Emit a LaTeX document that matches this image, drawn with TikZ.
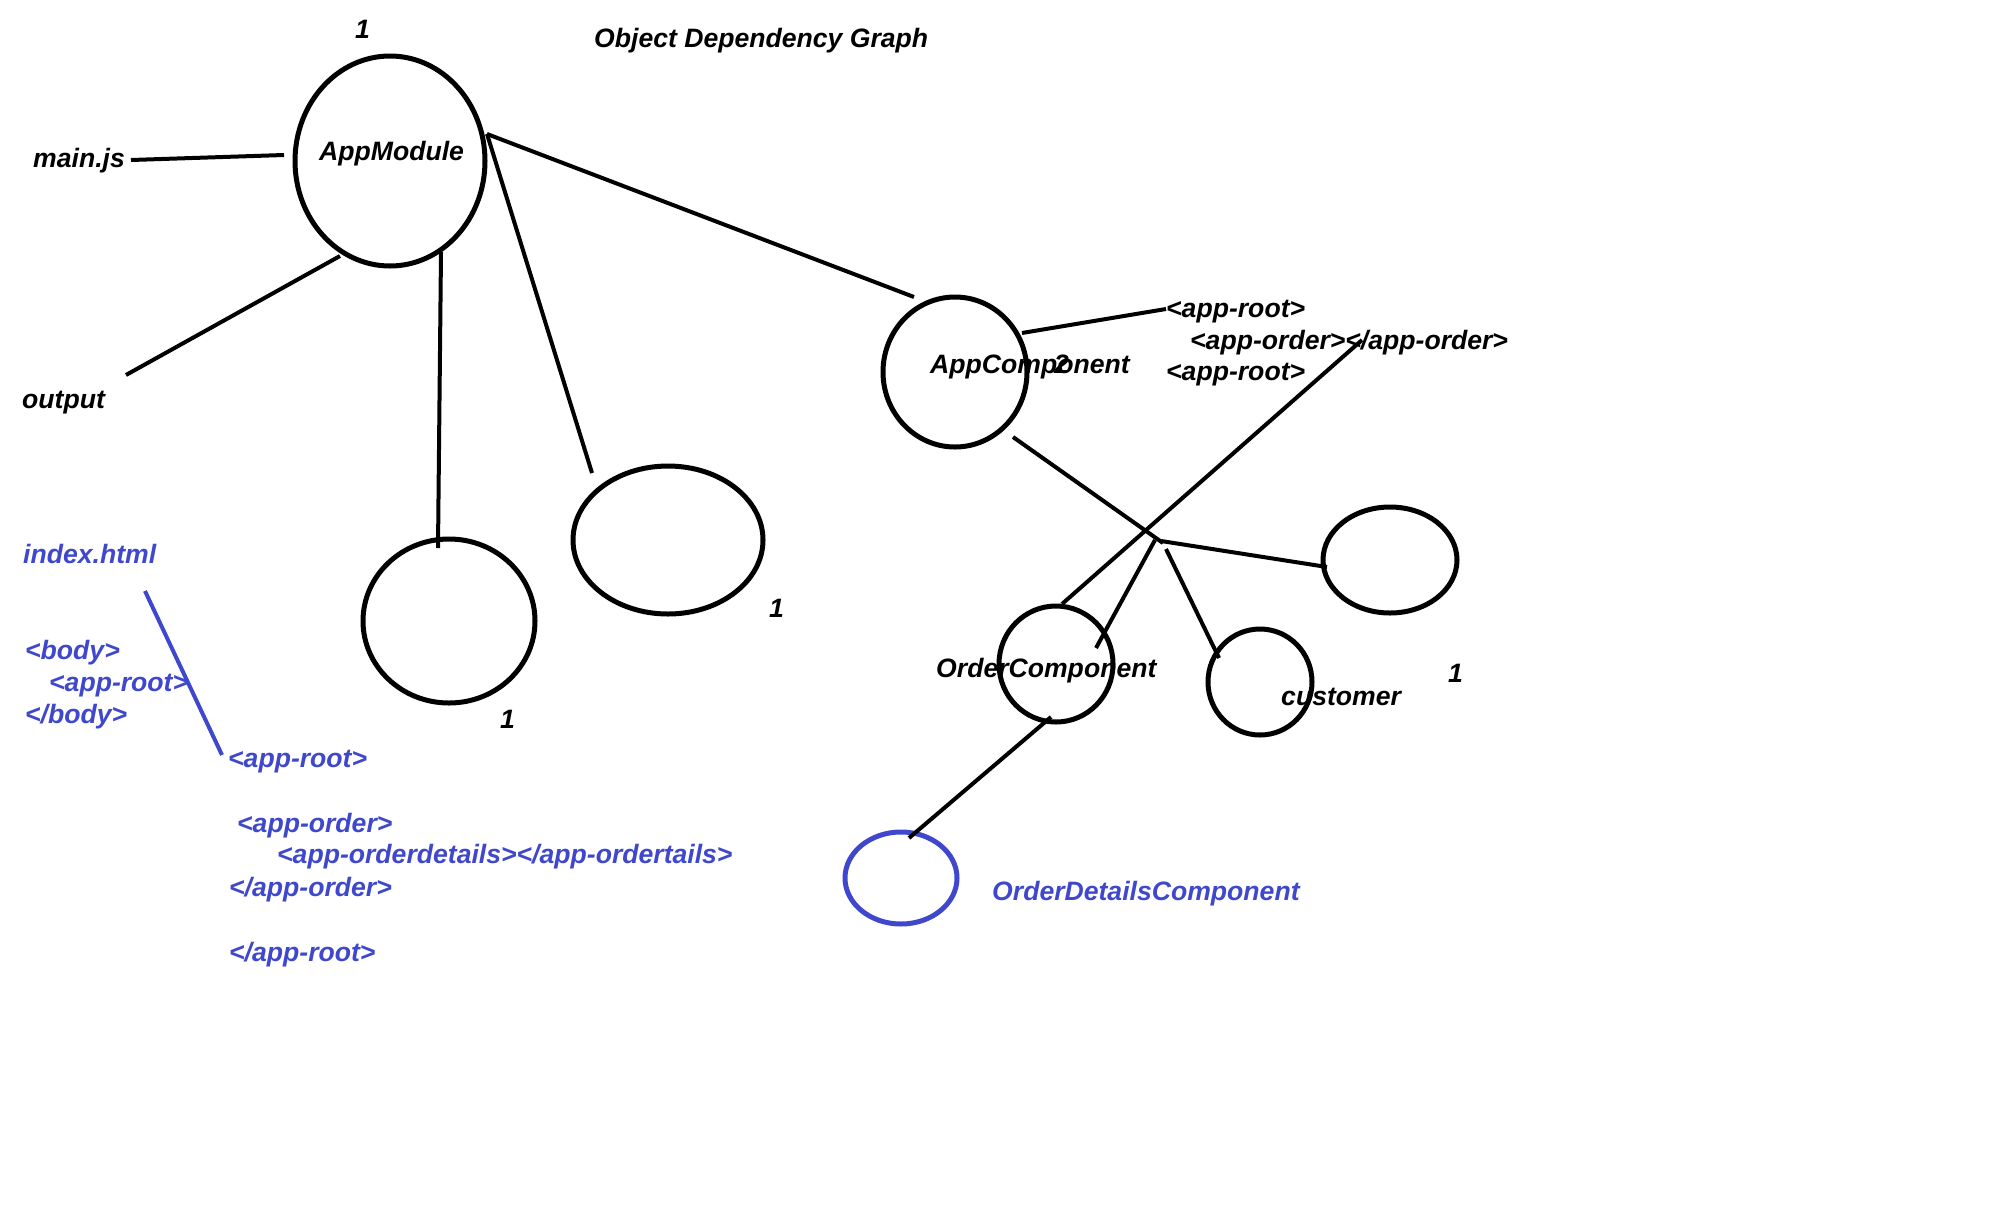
\documentclass[tikz,border=0pt]{standalone}
\usepackage{fontspec}
\setmainfont{Liberation Sans}
\usetikzlibrary{shapes.geometric}
\definecolor{pblue}{RGB}{63,72,204}
\begin{document}
\begin{tikzpicture}[x=1pt,y=-1pt,
  lbl/.style={inner sep=0pt, anchor=base west, font=\fontsize{26.6}{30}\selectfont\bfseries\itshape},
  blbl/.style={lbl, text=pblue},
  oval/.style={draw, ellipse, line width=5pt, inner sep=0pt},
  wire/.style={line width=4pt},
  bwire/.style={line width=4pt, draw=pblue},
  ]
\useasboundingbox (0,0) rectangle (1992,1227);

% ellipses
\node[oval, minimum width=190pt, minimum height=210pt] (am) at (390,161) {};
\node[oval, minimum width=144pt, minimum height=150pt] (ac) at (955,372) {};
\node[oval, minimum width=172pt, minimum height=164pt] (c1) at (449,621) {};
\node[oval, minimum width=190pt, minimum height=148pt] (c2) at (668,540) {};
\node[oval, minimum width=114pt, minimum height=116pt] (oc) at (1056,664) {};
\node[oval, minimum width=104pt, minimum height=106pt] (cu) at (1260,682) {};
\node[oval, minimum width=134pt, minimum height=106pt] (rc) at (1390,560) {};
\node[oval, draw=pblue, minimum width=112pt, minimum height=92pt] (od) at (901,878) {};

% black labels
\node[lbl] (one1) at (355,38) {1};
\node[lbl] (title) at (594,47) {Object Dependency Graph};
\node[lbl] (mainjs) at (33,167) {main.js};
\node[lbl] (amt) at (319,160) {AppModule};
\node[lbl] (output) at (22,408) {output};
\node[lbl] (act) at (930,373) {AppComponent};
\node[lbl] (two) at (1054,373) {2};
\node[lbl] (r1) at (1166,317) {<app-root>};
\node[lbl] (r2) at (1190,349) {<app-order></app-order>};
\node[lbl] (r3) at (1166,380) {<app-root>};
\node[lbl] (oct) at (936,677) {OrderComponent};
\node[lbl] (cut) at (1281,705) {customer};
\node[lbl] (one2) at (1448,682) {1};
\node[lbl] (one3) at (500,728) {1};
\node[lbl] (one4) at (769,617) {1};

% blue labels
\node[blbl] (odt) at (992,900) {OrderDetailsComponent};
\node[blbl] (idx) at (23,563) {index.html};
\node[blbl] (b1) at (25,659) {<body>};
\node[blbl] (b2) at (49,691) {<app-root>};
\node[blbl] (b3) at (25,723) {</body>};
\node[blbl] (h1) at (228,767) {<app-root>};
\node[blbl] (h2) at (237,832) {<app-order>};
\node[blbl] (h3) at (277,863) {<app-orderdetails></app-ordertails>};
\node[blbl] (h4) at (229,896) {</app-order>};
\node[blbl] (h5) at (229,961) {</app-root>};

% connector end points
\coordinate (mjE) at (131,160);
\coordinate (amW) at (284,155);
\coordinate (amSW) at (340,256);
\coordinate (outN) at (126,375);
\coordinate (amS) at (441,252);
\coordinate (c1N) at (438,548);
\coordinate (amE) at (487,134);
\coordinate (c2N) at (592,473);
\coordinate (acNW) at (914,297);
\coordinate (acNE) at (1022,333);
\coordinate (r1W) at (1166,309);
\coordinate (acSE) at (1013,437);
\coordinate (jn) at (1163,543);
\coordinate (ocN) at (1062,604);
\coordinate (r2M) at (1362,340);
\coordinate (jnA) at (1161,541);
\coordinate (rcW) at (1327,567);
\coordinate (jnB) at (1155,540);
\coordinate (ocNE) at (1096,648);
\coordinate (jnC) at (1166,549);
\coordinate (cuNW) at (1219,658);
\coordinate (ocS) at (1051,717);
\coordinate (odN) at (909,838);
\coordinate (idxS) at (145,591);
\coordinate (h1W) at (222,755);

% connectors
\draw[wire] (mjE) -- (amW);
\draw[wire] (amSW) -- (outN);
\draw[wire] (amS) -- (c1N);
\draw[wire] (amE) -- (c2N);
\draw[wire] (amE) -- (acNW);
\draw[wire] (acNE) -- (r1W);
\draw[wire] (acSE) -- (jn);
\draw[wire] (ocN) -- (r2M);
\draw[wire] (jnA) -- (rcW);
\draw[wire] (jnB) -- (ocNE);
\draw[wire] (jnC) -- (cuNW);
\draw[wire] (ocS) -- (odN);
\draw[bwire] (idxS) -- (h1W);
\end{tikzpicture}
\end{document}
